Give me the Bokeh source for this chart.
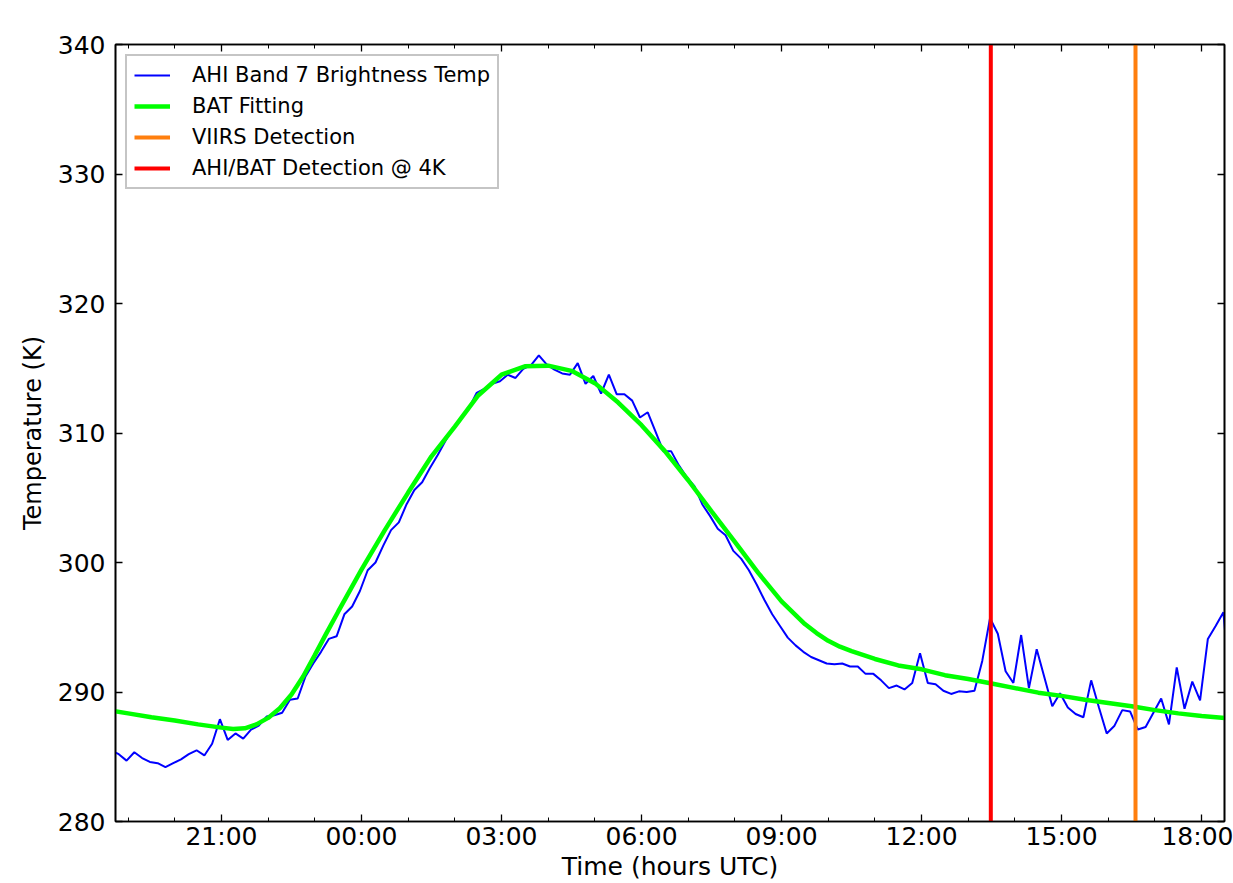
from bokeh.plotting import figure
from bokeh.models import FixedTicker, LinearAxis, Legend, LegendItem, Range1d
from bokeh.embed import file_html
from bokeh.resources import INLINE

# ---------------- data ----------------
# AHI band 7 brightness temperature, 10-minute samples starting 18:38 UTC (previous day)
blue_start_hour = -(5 + 22 / 60)          # 18:38 expressed as hours relative to 00:00
blue_step_hour = 10 / 60
ahi_temp = [
    285.5, 285.2, 284.7, 285.35, 284.9, 284.6, 284.5, 284.2, 284.5, 284.8,
    285.2, 285.5, 285.1, 286.0, 287.9, 286.3, 286.8, 286.4, 287.1, 287.4,
    288.1, 288.2, 288.4, 289.4, 289.5, 291.2, 292.2, 293.1, 294.1, 294.3,
    296.0, 296.6, 297.8, 299.4, 300.0, 301.3, 302.5, 303.1, 304.5, 305.6,
    306.2, 307.3, 308.3, 309.4, 310.4, 311.1, 311.9, 313.1, 313.4, 313.8,
    314.0, 314.5, 314.25, 314.95, 315.25, 316.0, 315.3, 314.9, 314.6, 314.5,
    315.4, 313.8, 314.4, 313.05, 314.5, 313.0, 313.0, 312.5, 311.2, 311.6,
    310.1, 308.6, 308.6, 307.5, 306.6, 305.9, 304.5, 303.6, 302.6, 302.1,
    300.9, 300.3, 299.4, 298.3, 297.1, 296.0, 295.1, 294.2, 293.6, 293.1,
    292.7, 292.45, 292.2, 292.15, 292.2, 291.97, 291.97, 291.4, 291.4, 290.9,
    290.3, 290.5, 290.2, 290.7, 293.0, 290.7, 290.6, 290.1, 289.85, 290.05,
    290.0, 290.1, 292.4, 295.7, 294.5, 291.6, 290.7, 294.4, 290.3, 293.3,
    291.1, 288.9, 289.9, 288.8, 288.3, 288.05, 290.9, 288.8, 286.8, 287.4,
    288.6, 288.5, 287.1, 287.3, 288.4, 289.5, 287.5, 291.9, 288.7, 290.8,
    289.35, 294.1, 295.1, 296.15, 289.4,
]
ahi_hour = [blue_start_hour + i * blue_step_hour for i in range(len(ahi_temp))]

# BAT fitting curve (hours relative to 00:00 UTC, temperature K)
bat_hour = [
    -5.5, -5.0, -4.5, -4.0, -3.5, -3.0, -2.75, -2.5, -2.25, -2.0, -1.75, -1.5,
    -1.25, -1.0, -0.75, -0.5, 0.0, 0.5, 1.0, 1.5, 2.0, 2.5, 3.0, 3.5, 4.0, 4.5,
    5.0, 5.5, 6.0, 6.5, 7.0, 7.5, 8.0, 8.5, 9.0, 9.5, 9.75, 10.0, 10.25, 10.5,
    11.0, 11.5, 12.0, 12.5, 13.0, 13.5, 14.0, 14.5, 15.0, 15.5, 16.0, 16.5,
    17.0, 17.5, 18.0, 18.5,
]
bat_temp = [
    288.65, 288.35, 288.05, 287.8, 287.5, 287.25, 287.15, 287.2, 287.5, 288.0,
    288.75, 289.8, 291.2, 292.85, 294.55, 296.2, 299.45, 302.5, 305.4, 308.2,
    310.5, 312.9, 314.5, 315.15, 315.2, 314.8, 313.85, 312.35, 310.6, 308.6,
    306.35, 303.95, 301.6, 299.2, 297.0, 295.25, 294.55, 293.95, 293.5, 293.15,
    292.55, 292.05, 291.75, 291.3, 291.0, 290.65, 290.3, 289.95, 289.7, 289.4,
    289.15, 288.9, 288.6, 288.35, 288.15, 288.0,
]

viirs_hour = 16 + 35 / 60        # 16:35 UTC
ahi_bat_hour = 13 + 29 / 60      # 13:29 UTC

x_limits = (-5.27, 18.49)
y_limits = (280, 340)
y_ticks = [280, 290, 300, 310, 320, 330, 340]
x_major_ticks = [-3, 0, 3, 6, 9, 12, 15, 18]
x_tick_labels = ["21:00", "00:00", "03:00", "06:00", "09:00", "12:00", "15:00", "18:00"]
x_minor_ticks = list(range(-5, 19))

# ---------------- figure ----------------
FONT = "DejaVu Sans"
p = figure(width=1233, height=883, x_range=Range1d(*x_limits), y_range=Range1d(*y_limits),
           output_backend="svg", toolbar_location=None,
           min_border_left=115, min_border_top=44, min_border_right=9, min_border_bottom=62)
p.xgrid.visible = False
p.ygrid.visible = False
p.outline_line_color = "black"
p.outline_line_width = 1.6
p.background_fill_color = "white"
p.border_fill_color = "white"

r_blue = p.line(ahi_hour, ahi_temp, line_color="#0000ff", line_width=2)
r_green = p.line(bat_hour, bat_temp, line_color="#00ff00", line_width=4.5)
r_orange = p.line([viirs_hour, viirs_hour], list(y_limits), line_color="#ff7f0e", line_width=4)
r_red = p.line([ahi_bat_hour, ahi_bat_hour], list(y_limits), line_color="#ff0000", line_width=4)


def style_axis(ax):
    ax.axis_line_color = "black"
    ax.axis_line_width = 1.6
    ax.major_tick_in = 7
    ax.major_tick_out = 0
    ax.minor_tick_in = 4
    ax.minor_tick_out = 0
    ax.major_tick_line_width = 1.3
    ax.minor_tick_line_width = 1.0
    ax.major_tick_line_color = "black"
    ax.minor_tick_line_color = "black"
    ax.major_label_text_font = FONT
    ax.major_label_text_color = "black"
    ax.axis_label_text_font = FONT
    ax.axis_label_text_font_style = "normal"
    ax.axis_label_text_color = "black"


xa = p.xaxis[0]
xa.ticker = FixedTicker(ticks=x_major_ticks, minor_ticks=x_minor_ticks)
xa.major_label_overrides = {t: l for t, l in zip(x_major_ticks, x_tick_labels)}
style_axis(xa)
xa.major_label_text_font_size = "25px"
xa.major_label_standoff = 0
xa.axis_label = "Time (hours UTC)"
xa.axis_label_text_font_size = "25px"
xa.axis_label_standoff = -2

ya = p.yaxis[0]
ya.ticker = FixedTicker(ticks=y_ticks, minor_ticks=[])
style_axis(ya)
ya.major_label_text_font_size = "25px"
ya.major_label_standoff = 10
ya.axis_label = "Temperature (K)"
ya.axis_label_text_font_size = "24px"
ya.axis_label_standoff = 8

# tick marks on the top and right spines (no labels)
top = LinearAxis(ticker=FixedTicker(ticks=x_major_ticks, minor_ticks=x_minor_ticks))
style_axis(top)
top.major_label_text_font_size = "0px"
top.major_label_text_color = None
top.major_label_standoff = 0
p.add_layout(top, "above")

right = LinearAxis(ticker=FixedTicker(ticks=y_ticks, minor_ticks=[]))
style_axis(right)
right.major_label_text_font_size = "0px"
right.major_label_text_color = None
right.major_label_standoff = 0
p.add_layout(right, "right")

legend = Legend(items=[
    LegendItem(label="AHI Band 7 Brightness Temp", renderers=[r_blue]),
    LegendItem(label="BAT Fitting", renderers=[r_green]),
    LegendItem(label="VIIRS Detection", renderers=[r_orange]),
    LegendItem(label="AHI/BAT Detection @ 4K", renderers=[r_red]),
])
legend.location = "top_left"
legend.margin = 10
legend.padding = 7
legend.spacing = 7
legend.glyph_width = 36
legend.glyph_height = 24
legend.label_height = 24
legend.label_standoff = 22
legend.label_text_font = FONT
legend.label_text_font_size = "21px"
legend.label_text_color = "black"
legend.border_line_color = "#8c8c8c"
legend.border_line_width = 2
legend.background_fill_color = "white"
legend.background_fill_alpha = 1.0
p.add_layout(legend, "center")

open("out.html", "w").write(file_html(p, INLINE))
